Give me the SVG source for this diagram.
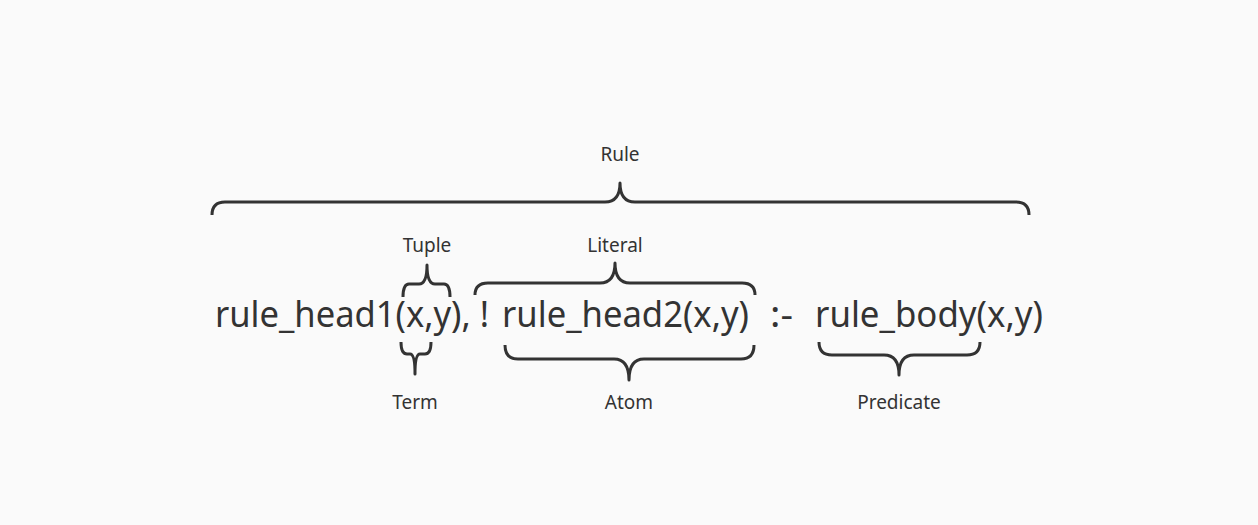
<svg xmlns="http://www.w3.org/2000/svg" width="1258" height="525" viewBox="0 0 1258 525">
<style>
.main{font-family:"Noto Sans","Open Sans",sans-serif;font-size:37px;fill:#333;}
.lbl{font-family:"Noto Sans","Open Sans",sans-serif;font-size:19px;fill:#333;text-anchor:middle;}
.br{fill:none;stroke:#333;stroke-width:3;stroke-linecap:butt;stroke-linejoin:round;}
</style>
<rect width="1258" height="525" fill="#fafafa"/>
<g id="text">
<text class="main" x="215" y="327" textLength="274" lengthAdjust="spacingAndGlyphs">rule_head1(x,y), !</text>
<text class="main" x="502" y="327" textLength="247" lengthAdjust="spacingAndGlyphs">rule_head2(x,y)</text>
<text class="main" x="770" y="327" textLength="23" lengthAdjust="spacingAndGlyphs">:-</text>
<text class="main" x="815" y="327" textLength="228" lengthAdjust="spacingAndGlyphs">rule_body(x,y)</text>
</g>
<g id="connectors">
<path id="rule-brace" class="br" d="M212,215 Q212,202 225,202 L605,202 Q620,202 620,183 Q620,202 635,202 L1016,202 Q1029,202 1029,215"/>
<path id="tuple-brace" class="br" d="M403,297 Q403,284 409,284 L419,284 Q427,284 427,265 Q427,284 435,284 L444,284 Q450,284 450,297"/>
<path id="literal-brace" class="br" d="M475,295 Q475,283 488,283 L600,283 Q615,283 615,263 Q615,283 630,283 L742,283 Q755,283 755,295"/>
<path id="term-brace" class="br" d="M401,342 Q401,354 407,354 L410,354 Q415,354 415,374 Q415,354 420,354 L425,354 Q431,354 431,342"/>
<path id="atom-brace" class="br" d="M505,345 Q505,359 518,359 L614,359 Q629,359 629,380 Q629,359 644,359 L741,359 Q754,359 754,345"/>
<path id="predicate-brace" class="br" d="M819,342 Q819,355 832,355 L884,355 Q899,355 899,375 Q899,355 914,355 L967,355 Q980,355 980,342"/>
</g>
<g id="rule"><text class="lbl" x="620" y="161">Rule</text></g>
<g id="tuple"><text class="lbl" x="427" y="252">Tuple</text></g>
<g id="literal"><text class="lbl" x="615" y="252">Literal</text></g>
<g id="term"><text class="lbl" x="415" y="409">Term</text></g>
<g id="atom"><text class="lbl" x="629" y="409">Atom</text></g>
<g id="predicate"><text class="lbl" x="899" y="409">Predicate</text></g>
</svg>
